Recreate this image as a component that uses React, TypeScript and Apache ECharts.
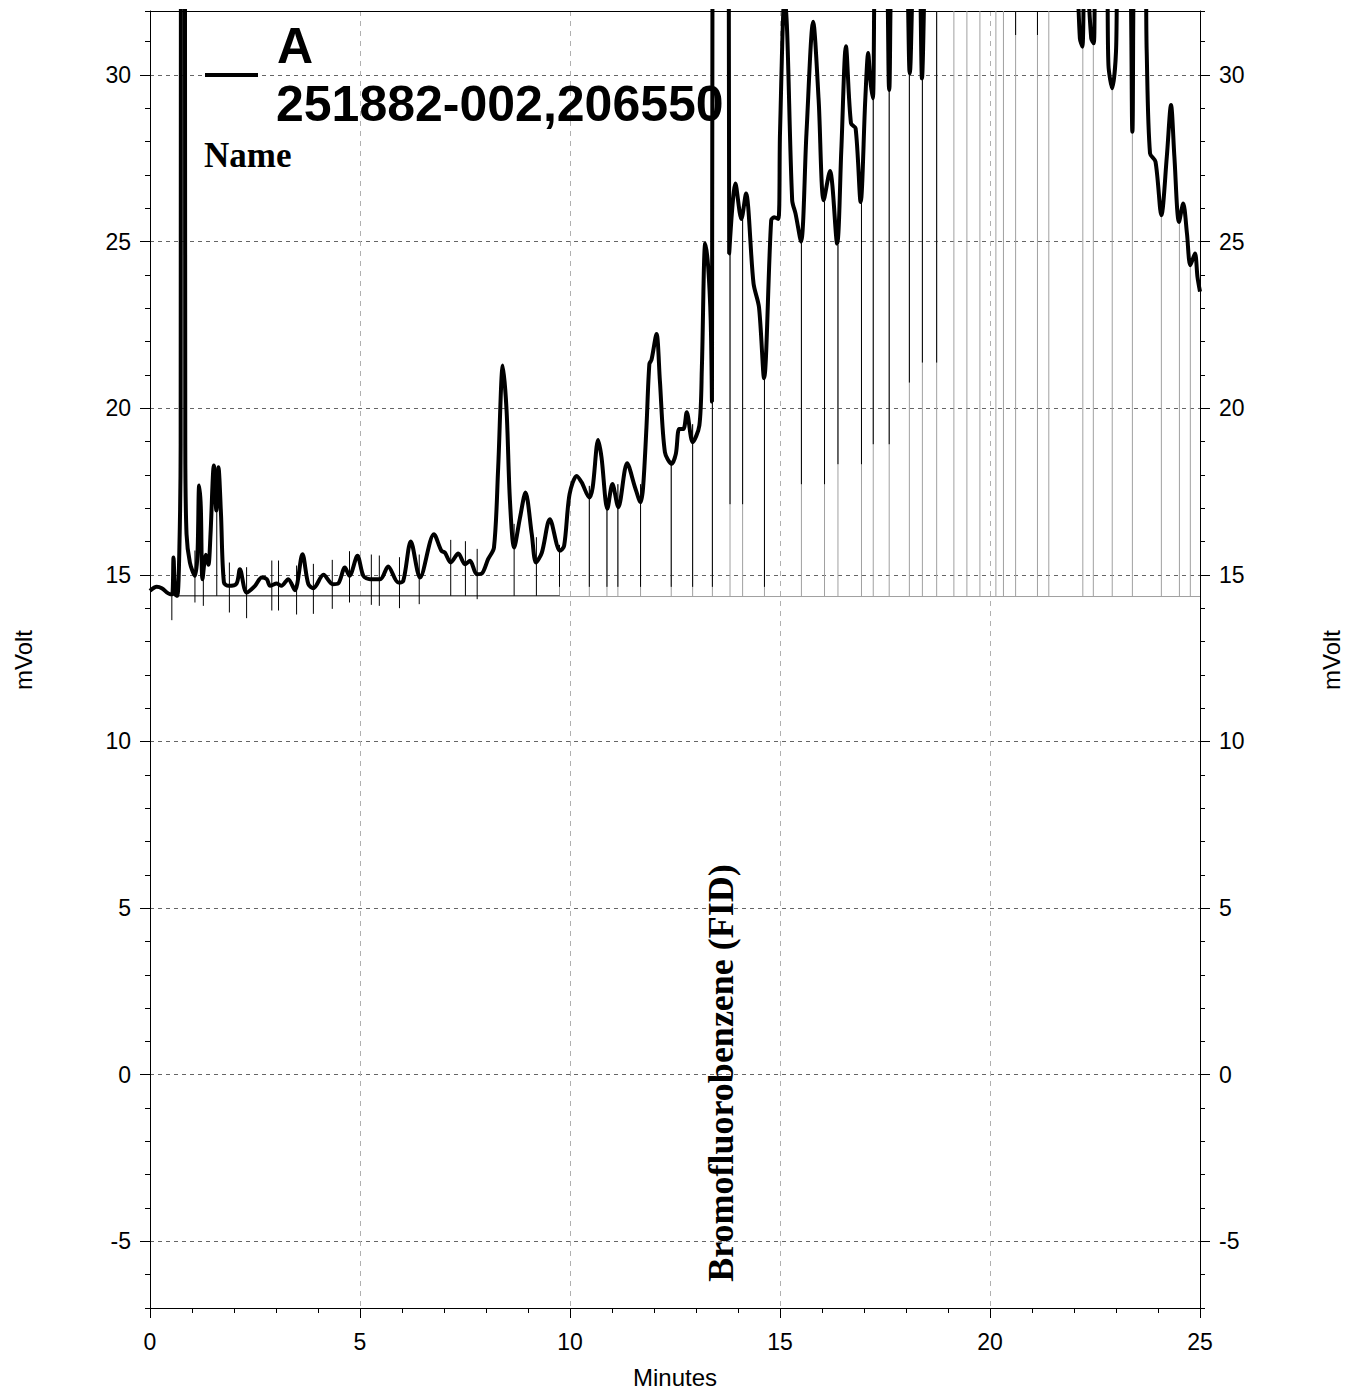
import React, { useEffect, useRef } from "react";
import * as echarts from "echarts";

// ---- Chromatogram trace (minutes, mVolt) ----
const traceTime = [
  0.0, 0.16, 0.28, 0.48, 0.53, 0.56, 0.6, 0.65, 0.7, 0.73, 0.75, 0.81, 0.84, 0.87, 0.95,
  1.07, 1.13, 1.17, 1.21, 1.25, 1.33, 1.39, 1.44, 1.52, 1.58, 1.63, 1.69, 1.76, 1.87,
  2.06, 2.14, 2.3, 2.5, 2.66, 2.78, 2.86, 3.02, 3.13, 3.29, 3.45, 3.63, 3.77, 3.89,
  4.13, 4.35, 4.48, 4.64, 4.75, 4.94, 5.08, 5.24, 5.48, 5.67, 5.91, 6.03, 6.21, 6.43,
  6.76, 6.94, 7.02, 7.16, 7.34, 7.5, 7.62, 7.78, 7.9, 8.05, 8.19, 8.29, 8.4, 8.49, 8.57,
  8.67, 8.81, 8.94, 9.09, 9.19, 9.33, 9.52, 9.76, 9.86, 9.99, 10.16, 10.28, 10.46, 10.54,
  10.67, 10.75, 10.89, 11.01, 11.15, 11.36, 11.55, 11.68, 11.74, 11.82, 11.89, 11.94,
  12.06, 12.14, 12.26, 12.42, 12.52, 12.6, 12.7, 12.78, 12.92, 13.08, 13.14, 13.22,
  13.29, 13.35, 13.38, 13.45, 13.75, 13.79, 13.94, 14.08, 14.19, 14.37, 14.5, 14.62,
  14.79, 14.86, 14.96, 15.0, 15.11, 15.17, 15.29, 15.37, 15.5, 15.63, 15.79, 15.92,
  16.04, 16.19, 16.36, 16.46, 16.57, 16.69, 16.8, 16.92, 17.03, 17.1, 17.15, 17.21,
  17.3, 17.5, 17.6, 17.71, 17.96, 18.09, 18.21, 18.3, 18.38, 18.46, 18.6, 19.5, 20.5,
  21.5, 22.0, 22.14, 22.2, 22.26, 22.41, 22.47, 22.54, 22.77, 22.82, 22.91, 23.0, 23.06,
  23.29, 23.39, 23.46, 23.68, 23.73, 23.81, 23.94, 24.08, 24.21, 24.31, 24.39, 24.5,
  24.6, 24.69, 24.77, 24.88, 24.94, 25.0,
];
const traceValue = [
  14.52, 14.64, 14.6, 14.42, 14.42, 15.52, 14.42, 14.37, 15.82, 18.93, 60, 60, 18.9, 16.22, 15.37,
  14.97, 15.6, 17.68, 17.03, 14.87, 15.6, 15.3, 16.2, 18.28, 16.93, 18.23, 16.83, 14.77, 14.67,
  14.74, 15.17, 14.47, 14.67, 14.92, 14.87, 14.67, 14.74, 14.67, 14.87, 14.54, 15.62, 14.72, 14.6,
  15.0, 14.72, 14.74, 15.22, 14.97, 15.57, 14.97, 14.87, 14.87, 15.25, 14.77, 14.82, 16.0, 14.92,
  16.22, 15.72, 15.67, 15.37, 15.64, 15.32, 15.42, 15.02, 15.04, 15.47, 15.82, 18.22, 21.28, 19.93, 17.23,
  15.82, 16.72, 17.47, 16.22, 15.37, 15.67, 16.67, 15.72, 15.87, 17.42, 17.97, 17.77, 17.32, 17.62,
  19.05, 18.53, 16.98, 17.73, 17.03, 18.35, 17.62, 17.18, 17.62, 19.42, 21.33, 21.45,
  22.23, 20.83, 18.68, 18.33, 18.63, 19.38, 19.38, 19.88, 18.98, 19.48, 21.23, 24.94,
  24.24, 22.64, 20.2, 60, 60, 24.64, 26.74, 25.68, 26.44, 23.74, 23.03, 20.9,
  25.64, 25.73, 25.68, 28.25, 32.4, 31.3, 26.24, 25.84, 25.0, 28.25, 31.6, 29.25,
  26.24, 27.12, 24.94, 27.75, 30.86, 28.55, 28.4, 26.19, 29.25, 30.66, 29.85, 29.3,
  34, 34, 29.55, 34, 34, 30.05, 34, 34, 29.9, 34, 40, 48, 46,
  40, 35, 31.1, 30.85, 34, 31.1, 30.95, 34, 34, 30.3, 29.6, 30.7, 34,
  34, 28.3, 34, 34, 30.75, 27.65, 27.4, 25.79, 27.55, 29.1, 27.55, 25.59,
  26.14, 25.24, 24.29, 24.64, 23.94, 23.5,
];

// ---- Peak markers before 9.8 min (black, crossing the baseline) ----
const earlyMarkTime = [0.52, 1.07, 1.27, 1.59, 1.89, 2.3, 2.9, 3.06, 3.49, 3.89, 4.34, 4.75, 5.27, 5.46, 5.94, 6.41, 7.16, 7.51, 7.79, 8.67, 9.2];
const earlyMarkTop = [14.64, 15.73, 15.23, 17.23, 15.37, 15.23, 15.43, 15.43, 15.28, 15.33, 15.45, 15.71, 15.61, 15.58, 15.53, 15.61, 16.05, 16.01, 15.78, 16.53, 16.13];
const earlyMarkBottom = [13.64, 14.17, 14.07, 14.37, 13.87, 13.7, 13.93, 13.93, 13.81, 13.83, 13.98, 14.17, 14.1, 14.07, 14.0, 14.12, 14.37, 14.37, 14.27, 14.37, 14.37];

// ---- Peak markers after 9.7 min (black top part, grey down to the baseline) ----
const lateMarkTime = [9.75, 10.46, 10.88, 11.14, 11.68, 12.41, 12.92, 13.39, 13.81, 14.11, 14.63, 15.51, 16.06, 16.38, 16.94, 17.22, 17.6, 18.08, 18.39, 18.73, 19.14, 19.45, 19.76, 20.14, 20.32, 20.61, 21.13, 21.4, 22.21, 22.46, 22.91, 23.39, 24.08, 24.51, 24.77];
const lateMarkTop = [15.9, 17.67, 17.02, 17.72, 17.72, 18.42, 19.52, 20.23, 24.64, 26.0, 20.9, 25.0, 26.2, 24.9, 26.2, 29.3, 29.55, 30.05, 29.9, 31.92, 31.92, 31.92, 31.92, 31.92, 31.92, 31.92, 31.92, 31.92, 30.85, 30.95, 29.6, 28.3, 25.8, 25.6, 24.3];
const lateMarkBlackEnd = [14.64, 14.64, 14.64, 14.64, 14.64, 14.64, 14.64, 14.64, 17.12, 17.12, 14.64, 17.72, 17.72, 18.32, 18.32, 18.92, 18.92, 20.77, 21.37, 21.37, 31.92, 31.92, 31.92, 31.92, 31.92, 31.2, 31.2, 31.92, 30.85, 30.95, 29.6, 28.3, 25.8, 25.6, 24.3];

// ---- Integration baselines ----
const baselineBlackTime = [0.63, 9.75];
const baselineBlackValue = [14.37, 14.37];
const baselineGreyTime = [9.75, 25];
const baselineGreyValue = [14.35, 14.35];

const X_MIN = 0;
const X_MAX = 25;
const Y_MIN = -7;
const Y_MAX = 31.92;

const legendName = "A";
const legendSample = "251882-002,206550";
const legendCaption = "Name";
const peakLabel = "Bromofluorobenzene (FID)";
const xTitle = "Minutes";
const yTitle = "mVolt";

const SANS = '"Liberation Sans", Arial, sans-serif';
const SERIF = '"Liberation Serif", "Times New Roman", serif';

function segmentRenderer(color: string) {
  return (params: any, api: any) => {
    const p1 = api.coord([api.value(0), api.value(1)]);
    const p2 = api.coord([api.value(0), api.value(2)]);
    return {
      type: "line",
      shape: { x1: p1[0], y1: p1[1], x2: p2[0], y2: p2[1] },
      style: { stroke: color, lineWidth: 1 },
    };
  };
}

export default function App() {
  const ref = useRef<HTMLDivElement>(null);

  useEffect(() => {
    if (!ref.current) return;
    const chart = echarts.init(ref.current, null, { renderer: "svg" });

    const labelStyle = { color: "#000", fontSize: 23, fontFamily: SANS };

    const mainY = (position: "left" | "right", showSplit: boolean) => ({
      type: "value",
      position,
      min: Y_MIN,
      max: Y_MAX,
      splitNumber: 8,
      minInterval: 5,
      maxInterval: 5,
      axisLine: { show: true, onZero: false, lineStyle: { color: "#000", width: 1 } },
      axisTick: { show: true, length: 10, lineStyle: { color: "#000", width: 1 } },
      axisLabel: { ...labelStyle, margin: 19, showMinLabel: false, showMaxLabel: false },
      splitLine: { show: showSplit, lineStyle: { color: "#666", width: 1, type: [4, 4] } },
    });
    const minorY = (position: "left" | "right") => ({
      type: "value",
      position,
      min: Y_MIN,
      max: Y_MAX,
      interval: 1,
      axisLine: { show: false, onZero: false },
      axisTick: { show: true, length: 5, lineStyle: { color: "#000", width: 1 } },
      axisLabel: { show: false },
      splitLine: { show: false },
    });

    const option: any = {
      animation: false,
      backgroundColor: "#fff",
      grid: { left: 150, right: 155, top: 11, bottom: 87, containLabel: false },
      xAxis: [
        {
          type: "value",
          position: "bottom",
          min: X_MIN,
          max: X_MAX,
          interval: 5,
          axisLine: { show: true, onZero: false, lineStyle: { color: "#000", width: 1 } },
          axisTick: { show: true, length: 10, lineStyle: { color: "#000", width: 1 } },
          minorTick: { show: true, splitNumber: 5, length: 5, lineStyle: { color: "#000", width: 1 } },
          axisLabel: { ...labelStyle, margin: 22 },
          splitLine: { show: true, lineStyle: { color: "#b0b0b0", width: 1, type: [5, 5] } },
        },
        {
          type: "value",
          position: "top",
          min: X_MIN,
          max: X_MAX,
          interval: 5,
          axisLine: { show: true, onZero: false, lineStyle: { color: "#000", width: 1 } },
          axisTick: { show: false },
          axisLabel: { show: false },
          splitLine: { show: false },
        },
      ],
      yAxis: [mainY("left", true), minorY("left"), mainY("right", false), minorY("right")],
      graphic: [
        {
          type: "line",
          shape: { x1: 205, y1: 75, x2: 258, y2: 75 },
          style: { stroke: "#000", lineWidth: 4 },
          z: 100,
        },
        {
          type: "text",
          x: 277,
          y: 46,
          style: { text: legendName, fill: "#000", font: `bold 50px ${SANS}`, textAlign: "left", textVerticalAlign: "middle" },
          z: 100,
        },
        {
          type: "text",
          x: 276,
          y: 104,
          style: { text: legendSample, fill: "#000", font: `bold 50px ${SANS}`, textAlign: "left", textVerticalAlign: "middle" },
          z: 100,
        },
        {
          type: "text",
          x: 204,
          y: 155,
          style: { text: legendCaption, fill: "#000", font: `bold 35px ${SERIF}`, textAlign: "left", textVerticalAlign: "middle" },
          z: 100,
        },
        {
          type: "text",
          x: 721,
          y: 1073,
          rotation: Math.PI / 2,
          style: { text: peakLabel, fill: "#000", font: `bold 36px ${SERIF}`, textAlign: "center", textVerticalAlign: "middle" },
          z: 100,
        },
        {
          type: "text",
          x: 675,
          y: 1377,
          style: { text: xTitle, fill: "#000", font: `24px ${SANS}`, textAlign: "center", textVerticalAlign: "middle" },
        },
        {
          type: "text",
          x: 23,
          y: 660,
          rotation: Math.PI / 2,
          style: { text: yTitle, fill: "#000", font: `24px ${SANS}`, textAlign: "center", textVerticalAlign: "middle" },
        },
        {
          type: "text",
          x: 1331,
          y: 660,
          rotation: Math.PI / 2,
          style: { text: yTitle, fill: "#000", font: `24px ${SANS}`, textAlign: "center", textVerticalAlign: "middle" },
        },
      ],
      series: [
        {
          type: "custom",
          name: "marker-grey",
          coordinateSystem: "cartesian2d",
          silent: true,
          clip: true,
          z: 2,
          data: lateMarkTime.map((t, i) => [t, lateMarkTop[i], baselineGreyValue[0]]),
          renderItem: segmentRenderer("#a0a0a0"),
        },
        {
          type: "custom",
          name: "marker-black-late",
          coordinateSystem: "cartesian2d",
          silent: true,
          clip: true,
          z: 3,
          data: lateMarkTime.map((t, i) => [t, lateMarkTop[i], lateMarkBlackEnd[i]]),
          renderItem: segmentRenderer("#000"),
        },
        {
          type: "custom",
          name: "marker-black-early",
          coordinateSystem: "cartesian2d",
          silent: true,
          clip: true,
          z: 3,
          data: earlyMarkTime.map((t, i) => [t, earlyMarkTop[i], earlyMarkBottom[i]]),
          renderItem: segmentRenderer("#000"),
        },
        {
          type: "line",
          name: "baseline-black",
          silent: true,
          symbol: "none",
          z: 3,
          lineStyle: { color: "#000", width: 1 },
          data: baselineBlackTime.map((t, i) => [t, baselineBlackValue[i]]),
        },
        {
          type: "line",
          name: "baseline-grey",
          silent: true,
          symbol: "none",
          z: 3,
          lineStyle: { color: "#a0a0a0", width: 1 },
          data: baselineGreyTime.map((t, i) => [t, baselineGreyValue[i]]),
        },
        {
          type: "line",
          name: legendName,
          silent: true,
          symbol: "none",
          smooth: 0.3,
          clip: true,
          z: 5,
          lineStyle: { color: "#000", width: 4 },
          data: traceTime.map((t, i) => [t, traceValue[i]]),
        },
      ],
    };

    chart.setOption(option);
    return () => chart.dispose();
  }, []);

  return (
    <div
      ref={ref}
      style={{ position: "fixed", left: 0, top: 0, width: 1355, height: 1395, background: "#fff" }}
    />
  );
}
